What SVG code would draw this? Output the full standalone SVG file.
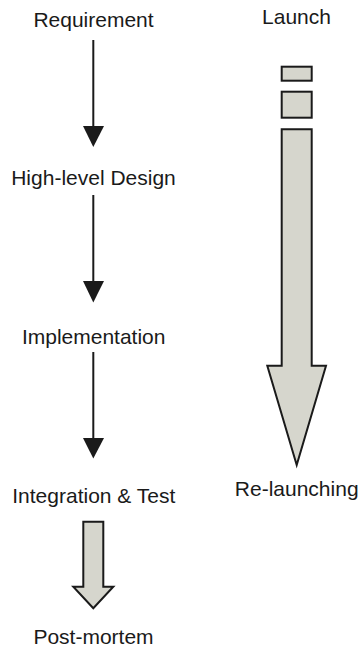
<svg xmlns="http://www.w3.org/2000/svg" width="360" height="649" viewBox="0 0 360 649">
<style>
text{font-family:"Liberation Sans",Arial,sans-serif;font-size:21px;fill:#1a1a1a;text-anchor:middle}
.ln{stroke:#1a1a1a;stroke-width:2;fill:none}
.hd{fill:#1a1a1a;stroke:none}
.blk{fill:#d6d6cd;stroke:#1a1a1a;stroke-width:2;stroke-linejoin:miter}
</style>
<rect width="360" height="649" fill="#ffffff"/>
<g id="requirement"><text x="93.5" y="27">Requirement</text></g>
<g id="high-level-design"><text x="93.5" y="185">High-level Design</text></g>
<g id="implementation"><text x="93.7" y="344">Implementation</text></g>
<g id="integration-test"><text x="93.8" y="503">Integration &amp; Test</text></g>
<g id="post-mortem"><text x="93.5" y="644">Post-mortem</text></g>
<g id="launch"><text x="296.5" y="23.5">Launch</text></g>
<g id="re-launching"><text x="296.7" y="496">Re-launching</text></g>
<g id="connectors">
<line class="ln" x1="93.3" y1="40" x2="93.3" y2="128"/>
<polygon class="hd" points="83,126 104,126 93.3,147"/>
<line class="ln" x1="93.3" y1="195" x2="93.3" y2="283"/>
<polygon class="hd" points="83,281 104,281 93.3,302.5"/>
<line class="ln" x1="93.3" y1="352" x2="93.3" y2="440"/>
<polygon class="hd" points="83,438 104,438 93.3,458.5"/>
<polygon class="blk" points="83.3,521.7 103.3,521.7 103.3,586.7 113.3,586.7 93.3,608.3 73.3,586.7 83.3,586.7"/>
<rect class="blk" x="281.7" y="66.7" width="30" height="14"/>
<rect class="blk" x="281.7" y="91.7" width="30" height="26"/>
<polygon class="blk" points="281.7,129.3 311.7,129.3 311.7,365.7 326,365.7 296.7,465 267.3,365.7 281.7,365.7"/>
</g>
</svg>
